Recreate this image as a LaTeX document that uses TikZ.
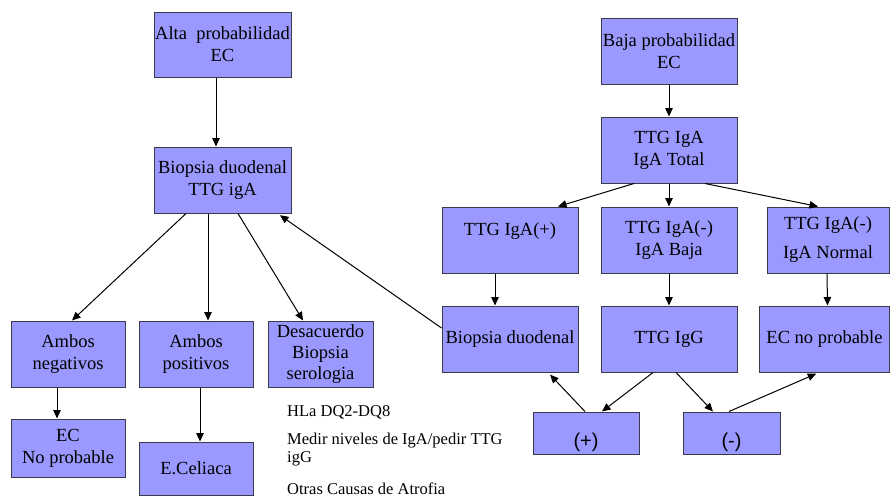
\documentclass[tikz,border=0pt]{standalone}
\usepackage{fontspec}
\setmainfont{Liberation Serif}
\newfontfamily\arialf{Liberation Sans}
\usetikzlibrary{arrows.meta,calc}
\definecolor{boxfill}{HTML}{9999FF}
\definecolor{boxline}{HTML}{3A3A4A}
\begin{document}
\begin{tikzpicture}[x=1pt,y=1pt,
  box/.style={draw=boxline,fill=boxfill,line width=1pt,inner sep=0pt,align=center,
    font=\fontsize{18.5}{22}\selectfont},
  plain/.style={inner sep=0pt,anchor=west,align=left,font=\fontsize{16.5}{18}\selectfont},
  sanslab/.style={inner sep=0pt,font=\arialf\fontsize{20}{22}\selectfont},
  conn/.style={line width=1pt,-{Triangle[length=8.5pt,width=7.5pt]}}]
\useasboundingbox (0,0) rectangle (891,-498);
% left column
\node[box,minimum width=137,minimum height=65] (alta) at (222.5,-44.5) {Alta\ \ probabilidad\\EC};
\node[box,minimum width=137,minimum height=66] (biop) at (222.5,-180) {Biopsia duodenal\\TTG igA};
\node[box,minimum width=114,minimum height=66] (ambneg) at (68,-354) {Ambos\\negativos};
\node[box,minimum width=114,minimum height=66] (ambpos) at (196,-354) {Ambos\\positivos};
\node[box,minimum width=105,minimum height=66,font=\fontsize{18.5}{21}\selectfont] (desac) at (320.5,-354) {Desacuerdo\\Biopsia\\serologia};
\node[box,minimum width=114,minimum height=58] (ecno) at (68,-448) {EC\\No probable};
\node[box,minimum width=114,minimum height=53] (ecel) at (196,-468.5) {E.Celiaca};
% notes
\node[plain] (n1) at (287,-412) {HLa DQ2-DQ8};
\node[plain] (n2) at (287,-450) {Medir niveles de IgA/pedir TTG\\igG};
\node[plain] (n3) at (287,-489) {Otras Causas de Atrofia};
% right column
\node[box,minimum width=136,minimum height=66] (baja) at (669,-51) {Baja probabilidad\\EC};
\node[box,minimum width=136,minimum height=66] (total) at (669,-150) {TTG IgA\\IgA Total};
\node[box,minimum width=136,minimum height=66] (pos) at (510,-240) {TTG IgA(+)\\\mbox{}};
\node[box,minimum width=136,minimum height=66] (negb) at (669,-240) {TTG IgA(-)\\IgA Baja};
\node[box,minimum width=122,minimum height=66] (negn) at (828,-240) {TTG IgA(-)\\[7pt]IgA Normal};
\node[box,minimum width=136,minimum height=66] (biopr) at (510,-339) {Biopsia duodenal};
\node[box,minimum width=136,minimum height=66] (igg) at (669,-339) {TTG IgG};
\node[box,minimum width=130,minimum height=66] (ecnp) at (824.5,-339) {EC no probable};
\node[box,minimum width=106,minimum height=42] (plus) at (586,-433) {};
\node[box,minimum width=97,minimum height=42] (minus) at (731.5,-433) {};
\node[sanslab] (plust) at ([yshift=-9pt]plus.center) {(+)};
\node[sanslab] (minust) at ([yshift=-9pt]minus.center) {(-)};
% connectors left
\draw[conn] ([xshift=-6.5pt]alta.south) -- ([xshift=-6.5pt]biop.north);
\draw[conn] ([xshift=-36.5pt]biop.south) -- ([xshift=4pt]ambneg.north);
\draw[conn] ([xshift=-14.5pt]biop.south) -- ([xshift=12pt]ambpos.north);
\draw[conn] ([xshift=15.5pt]biop.south) -- ([xshift=-17.5pt]desac.north);
\draw[conn] ([xshift=-11pt]ambneg.south) -- ([xshift=-11pt]ecno.north);
\draw[conn] ([xshift=4pt]ambpos.south) -- ([xshift=4pt]ecel.north);
\draw[conn,shorten >=3pt] ([yshift=11pt]biopr.west) -- ([xshift=-14pt]biop.south east);
% connectors right
\draw[conn] (baja.south) -- (total.north);
\draw[conn] ([xshift=-35pt]total.south) -- ([xshift=48pt]pos.north);
\draw[conn] (total.south) -- (negb.north);
\draw[conn] ([xshift=36pt]total.south) -- ([xshift=-10pt]negn.north);
\draw[conn] ([xshift=-15pt]pos.south) -- ([xshift=-15pt]biopr.north);
\draw[conn] (negb.south) -- (igg.north);
\draw[conn] ([xshift=-1pt]negn.south) -- ([xshift=3pt]ecnp.north);
\draw[conn,shorten >=3pt] ([xshift=-1pt]plus.north) -- ([xshift=38pt]biopr.south);
\draw[conn] ([xshift=-16pt]igg.south) -- ([xshift=16pt]plus.north);
\draw[conn] ([xshift=7pt]igg.south) -- ([xshift=-18.5pt]minus.north);
\draw[conn,shorten >=3pt] ([xshift=-2.5pt]minus.north) -- ([xshift=-5.5pt]ecnp.south);
\end{tikzpicture}
\end{document}
